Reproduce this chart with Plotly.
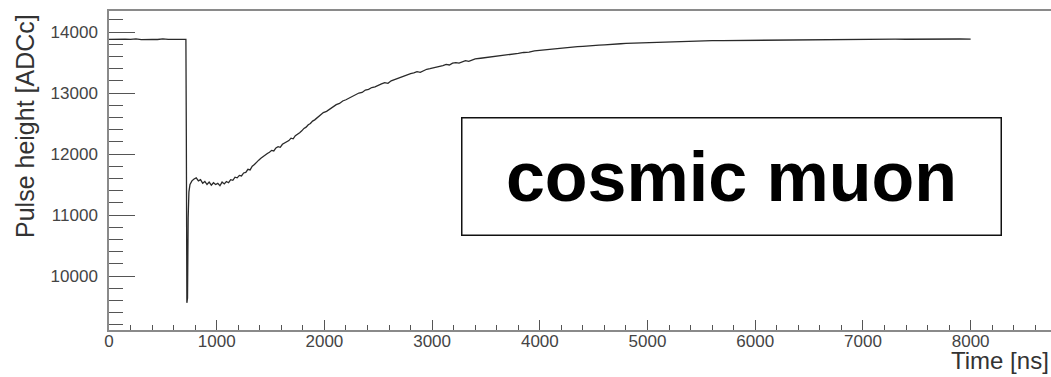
import plotly.graph_objects as go

# Digitizer waveform of a single cosmic-muon pulse
time_ns = [
    0, 50, 100, 150, 200, 250, 300, 350, 400, 450, 500, 550, 600, 650, 700, 714,
    718, 723, 729, 735, 742, 752, 770, 790, 810, 830, 850, 870, 890, 910, 930,
    950, 970, 990, 1010, 1030, 1050, 1070, 1090, 1110, 1130, 1150, 1170, 1190,
    1210, 1230, 1250, 1270, 1290, 1310, 1330, 1350, 1370, 1390, 1410, 1430,
    1450, 1470, 1490, 1510, 1530, 1550, 1570, 1590, 1610, 1630, 1650, 1670,
    1690, 1710, 1730, 1750, 1770, 1790, 1810, 1830, 1850, 1870, 1890, 1910,
    1930, 1950, 1970, 1990, 2020, 2050, 2080, 2110, 2140, 2170, 2200, 2230,
    2260, 2290, 2320, 2350, 2380, 2410, 2440, 2470, 2500, 2530, 2560, 2590,
    2620, 2650, 2680, 2710, 2740, 2770, 2800, 2830, 2860, 2890, 2920, 2950,
    2980, 3010, 3040, 3070, 3100, 3130, 3160, 3190, 3220, 3250, 3280, 3310,
    3340, 3370, 3400, 3450, 3500, 3550, 3600, 3650, 3700, 3750, 3800, 3850,
    3900, 3950, 4000, 4050, 4100, 4150, 4200, 4250, 4300, 4350, 4400, 4450,
    4500, 4550, 4600, 4650, 4700, 4750, 4800, 4850, 4900, 4950, 5000, 5100,
    5200, 5300, 5400, 5500, 5600, 5700, 5800, 5900, 6000, 6100, 6200, 6300,
    6400, 6500, 6600, 6700, 6800, 6900, 7000, 7100, 7200, 7300, 7400, 7500,
    7600, 7700, 7800, 7900, 8000,
]
pulse_adc = [
    13880, 13885, 13878, 13884, 13880, 13887, 13876, 13883, 13880, 13878, 13888,
    13880, 13882, 13879, 13884, 13880,
    12300, 9560, 9640, 10950, 11380, 11500, 11560, 11590, 11610, 11560, 11580,
    11520, 11550, 11500, 11540, 11490, 11530, 11500, 11520, 11480, 11540, 11510,
    11550, 11530, 11580, 11570, 11620, 11610, 11650, 11640, 11690, 11700, 11750,
    11740, 11800, 11830, 11870, 11900, 11930, 11960, 11980, 12010, 12030, 12060,
    12050, 12100, 12120, 12110, 12160, 12180, 12200, 12220, 12260, 12250, 12300,
    12320, 12350, 12380, 12420, 12440, 12480, 12500, 12540, 12560, 12590, 12610,
    12650, 12680, 12700, 12740, 12780, 12810, 12830, 12870, 12890, 12920, 12940,
    12980, 13000, 13010, 13050, 13060, 13090, 13100, 13130, 13150, 13170, 13160,
    13200, 13220, 13250, 13260, 13280, 13300, 13320, 13330, 13350, 13340, 13370,
    13390, 13400, 13410, 13420, 13440, 13450, 13470, 13460, 13490, 13500, 13490,
    13510, 13530, 13520, 13540, 13560, 13570, 13580, 13590, 13600, 13620, 13630,
    13640, 13650, 13665, 13670, 13690, 13700, 13710, 13715, 13730, 13735, 13745,
    13750, 13760, 13765, 13775, 13780, 13785, 13790, 13800, 13805, 13808, 13815,
    13818, 13822, 13826, 13830, 13835, 13840, 13845, 13850, 13855, 13858, 13860,
    13862, 13865, 13866, 13868, 13870, 13868, 13872, 13874, 13872, 13876, 13878,
    13876, 13880, 13882, 13880, 13884, 13882, 13885, 13883, 13886, 13884, 13886,
    13884,
]

x_range = [0, 8746]
y_range = [9115, 14345]
x_title = "Time [ns]"
y_title = "Pulse height [ADCc]"
label_text = "cosmic muon"

FONT = "Liberation Sans, Arial, Helvetica, sans-serif"
TICK_FONT = dict(family=FONT, size=17, color="#444444")

fig = go.Figure()
fig.add_trace(go.Scatter(
    x=time_ns, y=pulse_adc, mode="lines",
    line=dict(color="#2a2a2a", width=1.3),
    showlegend=False, hoverinfo="skip",
))

fig.update_layout(
    width=1051, height=377,
    margin=dict(l=109, r=0, t=11, b=47),
    paper_bgcolor="white", plot_bgcolor="white",
    font=dict(family=FONT),
    xaxis=dict(
        range=x_range, showgrid=False, zeroline=False,
        showline=True, linecolor="#8a8a8a", linewidth=1.5, mirror=True,
        ticks="inside", ticklen=10, tickwidth=1, tickcolor="#555555",
        tick0=0, dtick=1000, tickformat="d", tickfont=TICK_FONT,
        ticklabelstandoff=-5,
        minor=dict(ticks="inside", ticklen=5, tickwidth=1,
                   tickcolor="#555555", dtick=200, showgrid=False),
    ),
    yaxis=dict(
        range=y_range, showgrid=False, zeroline=False,
        showline=True, linecolor="#8a8a8a", linewidth=1.5,
        ticks="inside", ticklen=26, tickwidth=1, tickcolor="#555555",
        tick0=0, dtick=1000, tickformat="d", tickfont=TICK_FONT,
        ticklabelstandoff=6,
        minor=dict(ticks="inside", ticklen=14, tickwidth=1,
                   tickcolor="#555555", dtick=200, showgrid=False),
    ),
    annotations=[
        dict(text=x_title, xref="paper", yref="paper", x=1.0, y=-0.096,
             xanchor="right", yanchor="middle", showarrow=False,
             font=dict(family=FONT, size=24, color="#333333")),
        dict(text=y_title, xref="paper", yref="paper", x=-0.089, y=0.64,
             xanchor="center", yanchor="middle", textangle=-90,
             showarrow=False,
             font=dict(family=FONT, size=25, color="#333333")),
        dict(text="<b>" + label_text + "</b>", xref="paper", yref="paper",
             x=0.661, y=0.48, xanchor="center", yanchor="middle",
             showarrow=False, width=538, height=116,
             bordercolor="#111111", borderwidth=1.5, borderpad=0,
             bgcolor="white",
             font=dict(family=FONT, size=70, color="#000000")),
    ],
)

fig.write_html("out.html")
